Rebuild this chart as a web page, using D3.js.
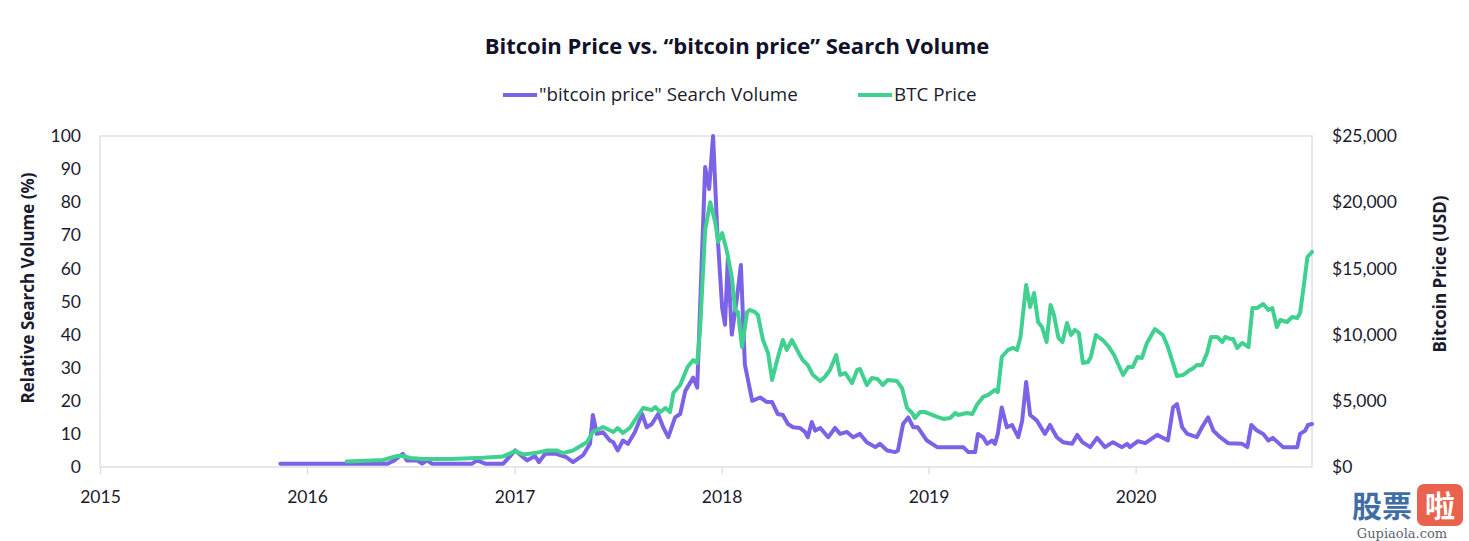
<!DOCTYPE html>
<html>
<head>
<meta charset="utf-8">
<script src="https://cdn.jsdelivr.net/npm/d3@7"></script>
<style>
  html, body { margin: 0; padding: 0; background: #fff; }
  svg text { font-family: Lato, "Open Sans", sans-serif; }
</style>
</head>
<body>
<svg id="chart" width="1469" height="541"></svg>
<script>
// ---------------- data ----------------
const title = "Bitcoin Price vs. \u201Cbitcoin price\u201D Search Volume";
const seriesNames = ["\"bitcoin price\" Search Volume", "BTC Price"];
const leftTicks = [0, 10, 20, 30, 40, 50, 60, 70, 80, 90, 100];
const rightTicks = [0, 5000, 10000, 15000, 20000, 25000];
const yearTicks = ["2015", "2016", "2017", "2018", "2019", "2020"];

const searchDates = [
"2015-11-15","2016-05-22","2016-06-03","2016-06-18","2016-06-25","2016-07-13","2016-07-22","2016-07-31","2016-08-08","2016-10-18",
"2016-10-27","2016-11-10","2016-12-12","2017-01-02","2017-01-23","2017-02-06","2017-02-13","2017-02-24","2017-03-15","2017-04-02",
"2017-04-14","2017-05-02","2017-05-14","2017-05-19","2017-05-26","2017-06-06","2017-06-18","2017-06-24","2017-07-02","2017-07-11",
"2017-07-20","2017-08-01","2017-08-14","2017-08-22","2017-08-31","2017-09-11","2017-09-20","2017-09-29","2017-10-11","2017-10-20",
"2017-10-29","2017-11-12","2017-11-19","2017-12-03","2017-12-10","2017-12-17","2017-12-24","2018-01-02","2018-01-07","2018-01-12",
"2018-01-19","2018-01-28","2018-02-04","2018-02-11","2018-02-24","2018-03-10","2018-03-22","2018-03-31","2018-04-10","2018-04-19",
"2018-04-28","2018-05-07","2018-05-19","2018-05-28","2018-06-02","2018-06-09","2018-06-15","2018-06-24","2018-07-08","2018-07-20",
"2018-07-29","2018-08-10","2018-08-21","2018-09-02","2018-09-14","2018-09-29","2018-10-07","2018-10-20","2018-11-03","2018-11-08",
"2018-11-17","2018-11-26","2018-12-05","2018-12-13","2018-12-29","2019-01-16","2019-03-03","2019-03-12","2019-03-24","2019-03-29",
"2019-04-07","2019-04-14","2019-04-23","2019-04-28","2019-05-03","2019-05-10","2019-05-19","2019-05-28","2019-06-08","2019-06-15",
"2019-06-22","2019-06-29","2019-07-11","2019-07-25","2019-08-03","2019-08-15","2019-08-26","2019-09-11","2019-09-20","2019-09-29",
"2019-10-13","2019-10-25","2019-11-08","2019-11-22","2019-12-08","2019-12-17","2019-12-22","2020-01-05","2020-01-18","2020-02-08",
"2020-02-27","2020-03-07","2020-03-14","2020-03-23","2020-04-01","2020-04-18","2020-04-27","2020-05-08","2020-05-17","2020-05-29",
"2020-06-12","2020-07-07","2020-07-16","2020-07-23","2020-08-02","2020-08-13","2020-08-22","2020-08-30","2020-09-17","2020-10-12",
"2020-10-17","2020-10-26","2020-10-31","2020-11-07"
];
const searchValues = [
1,1,2,4,2,2,1,2,1,1,
2,1,1,5,2,3.3,1.5,4,4,3,
1.5,3.6,7,15.7,10,10.5,8,7.5,5,8,
7,10.5,16,12,13,16,12,9,15,16,
23,27,24,90.6,84,100,72.5,48,43,63,
40,51,61,31,20,21,19.6,19.6,16,15.7,
13,12,11.8,10.6,9,13.6,11,11.8,9,11.8,
10,10.6,9,10,7.5,6,7,5,4.5,5,
13,15,12,12,8,6,6,4.5,4.5,10,
9,7,8,7,10,18,12,12.7,9,14,
25.7,15.7,14,10,12.7,9,7.5,7,9.7,7.5,
6,8.8,6,7.5,6,7,6,7.8,7.2,9.7,
8,18,19,12,10,9,12,15,11,9,
7.2,7,6,12.7,11,10,8,8.8,6,6,
10,11,12.7,13
];

const priceDates = [
"2016-03-11","2016-05-14","2016-06-08","2016-06-17","2016-07-01","2016-07-24","2016-09-09","2016-11-06","2016-12-12","2017-01-02",
"2017-01-16","2017-02-06","2017-02-27","2017-03-17","2017-03-27","2017-04-14","2017-05-09","2017-05-19","2017-06-06","2017-06-24",
"2017-07-02","2017-07-11","2017-07-23","2017-08-05","2017-08-16","2017-08-31","2017-09-06","2017-09-15","2017-09-24","2017-10-02",
"2017-10-08","2017-10-20","2017-11-02","2017-11-12","2017-11-19","2017-11-24","2017-12-03","2017-12-12","2017-12-21","2017-12-26",
"2018-01-02","2018-01-11","2018-01-19","2018-01-25","2018-01-30","2018-02-06","2018-02-15","2018-02-20","2018-03-01","2018-03-06",
"2018-03-15","2018-03-24","2018-03-31","2018-04-09","2018-04-19","2018-04-26","2018-05-05","2018-05-16","2018-05-24","2018-06-02",
"2018-06-11","2018-06-24","2018-07-02","2018-07-11","2018-07-22","2018-07-29","2018-08-07","2018-08-19","2018-08-28","2018-09-02",
"2018-09-14","2018-09-23","2018-10-03","2018-10-12","2018-10-21","2018-11-06","2018-11-15","2018-11-24","2018-12-03","2018-12-08",
"2018-12-17","2018-12-26","2019-01-04","2019-01-16","2019-01-27","2019-02-08","2019-02-17","2019-02-22","2019-03-10","2019-03-19",
"2019-03-27","2019-04-07","2019-04-16","2019-04-28","2019-05-03","2019-05-10","2019-05-21","2019-05-30","2019-06-06","2019-06-12",
"2019-06-22","2019-06-29","2019-07-06","2019-07-13","2019-07-20","2019-07-28","2019-08-04","2019-08-10","2019-08-18","2019-08-25",
"2019-09-02","2019-09-09","2019-09-16","2019-09-23","2019-09-30","2019-10-09","2019-10-14","2019-10-23","2019-11-04","2019-11-15",
"2019-11-24","2019-12-01","2019-12-10","2019-12-19","2019-12-27","2020-01-04","2020-01-12","2020-01-21","2020-02-04","2020-02-18",
"2020-02-27","2020-03-14","2020-03-25","2020-04-06","2020-04-12","2020-04-18","2020-04-27","2020-05-06","2020-05-13","2020-05-24",
"2020-06-02","2020-06-07","2020-06-16","2020-06-21","2020-06-28","2020-07-07","2020-07-18","2020-07-25","2020-08-02","2020-08-13",
"2020-08-22","2020-08-29","2020-09-06","2020-09-12","2020-09-24","2020-10-03","2020-10-12","2020-10-17","2020-10-23","2020-10-30",
"2020-11-07"
];
const priceValues = [
420,530,830,850,680,600,600,700,800,1200,
950,1050,1250,1250,1050,1250,1890,2640,3020,2640,
2945,2570,2945,3780,4460,4300,4530,4150,4460,4150,
5590,6190,7550,8080,7850,10350,17900,20000,18430,17000,
17670,16160,14350,11860,11700,9060,11700,11860,11700,11480,
9590,8600,6570,8080,9590,8840,9590,8690,8080,7700,
6950,6500,6800,7330,8460,6950,7100,6340,7330,7400,
6190,6720,6650,6190,6570,6500,5970,4460,4080,3700,
4150,4150,4000,3780,3630,3700,4080,3930,4080,4000,
4680,5290,5440,5820,5660,8310,8840,8990,8840,9820,
13750,12080,13140,10950,10570,9440,12240,11480,9740,9440,
10880,9970,10350,10120,7850,7930,8310,9970,9590,9060,
8460,7780,6950,7550,7550,8310,8230,9370,10420,9970,
9060,6870,6950,7330,7480,7700,7700,8610,9820,9820,
9440,9820,9670,9670,8990,9370,9060,12010,12010,12310,
11860,12010,10570,11100,10950,11330,11250,11630,13520,15860,
16240
];

// ---------------- drawing ----------------
const parse = d3.timeParse("%Y-%m-%d");
const searchData = searchDates.map((d, i) => ({ date: parse(d), value: searchValues[i] }));
const priceData = priceDates.map((d, i) => ({ date: parse(d), value: priceValues[i] }));

const PURPLE = "#7b62e6";
const GREEN = "#40d08f";
const TEXT = "#1b1b2f";
const FRAME = "#d9d9de";
const WIDE = "'Open Sans', Lato, sans-serif";

const svg = d3.select("#chart");
const plot = { left: 100, right: 1312, top: 136, bottom: 467 };

const x = d3.scaleTime()
  .domain([parse("2015-01-01"), parse("2020-11-07")])
  .range([plot.left, plot.right]);
const yL = d3.scaleLinear().domain([0, 100]).range([plot.bottom, plot.top]);
const yR = d3.scaleLinear().domain([0, 25000]).range([plot.bottom, plot.top]);

// Title
svg.append("text")
  .attr("x", 737).attr("y", 54)
  .attr("text-anchor", "middle")
  .attr("font-size", 22).attr("font-weight", 700)
  .attr("fill", "#11112a")
  .style("font-family", WIDE)
  .text(title);

// Legend
const legend = [
  { name: seriesNames[0], color: PURPLE, x: 503 },
  { name: seriesNames[1], color: GREEN, x: 858 }
];
legend.forEach(l => {
  svg.append("line")
    .attr("x1", l.x).attr("x2", l.x + 34)
    .attr("y1", 95).attr("y2", 95)
    .attr("stroke", l.color).attr("stroke-width", 4);
  svg.append("text")
    .attr("x", l.x + 36).attr("y", 101)
    .attr("font-size", 18.8).attr("fill", TEXT)
    .style("font-family", WIDE)
    .text(l.name);
});

// Frame
svg.append("rect")
  .attr("x", plot.left).attr("y", plot.top)
  .attr("width", plot.right - plot.left).attr("height", plot.bottom - plot.top)
  .attr("fill", "none").attr("stroke", FRAME).attr("stroke-width", 1.2);

// Left axis
const gL = svg.append("g").attr("transform", `translate(${plot.left},0)`)
  .call(d3.axisLeft(yL).tickValues(leftTicks).tickSize(0).tickPadding(19));
gL.select(".domain").remove();
gL.selectAll("text").attr("font-size", 17.5).attr("fill", TEXT).style("font-family", "Lato, sans-serif");

// Right axis
const gR = svg.append("g").attr("transform", `translate(${plot.right},0)`)
  .call(d3.axisRight(yR).tickValues(rightTicks).tickSize(0).tickPadding(20)
    .tickFormat(d => "$" + d3.format(",")(d)));
gR.select(".domain").remove();
gR.selectAll("text").attr("font-size", 17.5).attr("fill", TEXT).style("font-family", "Lato, sans-serif");

// Bottom axis
const gX = svg.append("g").attr("transform", `translate(0,${plot.bottom})`)
  .call(d3.axisBottom(x).tickValues(yearTicks.map(t => parse(t + "-01-01")))
    .tickSize(7).tickPadding(17).tickFormat(d3.timeFormat("%Y")));
gX.select(".domain").remove();
gX.selectAll("line").attr("stroke", FRAME).attr("stroke-width", 1.2);
gX.selectAll("text").attr("font-size", 17.5).attr("fill", TEXT).style("font-family", "Lato, sans-serif");

// Axis titles
svg.append("text")
  .attr("transform", "translate(34,288) rotate(-90)")
  .attr("text-anchor", "middle")
  .attr("font-size", 17).attr("font-weight", 700).attr("fill", TEXT)
  .style("font-family", WIDE)
  .text("Relative Search Volume (%)");
svg.append("text")
  .attr("transform", "translate(1446,274) rotate(-90)")
  .attr("text-anchor", "middle")
  .attr("font-size", 17).attr("font-weight", 700).attr("fill", TEXT)
  .style("font-family", WIDE)
  .text("Bitcoin Price (USD)");

// Lines
const lineS = d3.line().x(d => x(d.date)).y(d => yL(d.value));
const lineP = d3.line().x(d => x(d.date)).y(d => yR(d.value));

svg.append("path").datum(searchData)
  .attr("d", lineS).attr("fill", "none")
  .attr("stroke", PURPLE).attr("stroke-width", 4)
  .attr("stroke-linejoin", "round").attr("stroke-linecap", "round");
svg.append("path").datum(priceData)
  .attr("d", lineP).attr("fill", "none")
  .attr("stroke", GREEN).attr("stroke-width", 4)
  .attr("stroke-linejoin", "round").attr("stroke-linecap", "round");

// Watermark (bottom right of reference image)
const wm = svg.append("g");
wm.append("text").attr("x", 1352).attr("y", 517)
  .attr("font-size", 30).attr("font-weight", 700).attr("fill", "#3f6ea6")
  .style("font-family", "'Noto Sans CJK SC', sans-serif")
  .text("股票");
wm.append("rect").attr("x", 1417).attr("y", 484).attr("width", 46).attr("height", 42)
  .attr("rx", 7).attr("fill", "#e8624e");
wm.append("text").attr("x", 1440).attr("y", 517).attr("text-anchor", "middle")
  .attr("font-size", 30).attr("font-weight", 700).attr("fill", "#ffffff")
  .style("font-family", "'Noto Sans CJK SC', sans-serif")
  .text("啦");
wm.append("text").attr("x", 1402).attr("y", 538).attr("text-anchor", "middle")
  .attr("font-size", 13).attr("fill", "#5b6470")
  .style("font-family", "'DejaVu Serif', serif")
  .text("Gupiaola.com");
</script>
</body>
</html>
